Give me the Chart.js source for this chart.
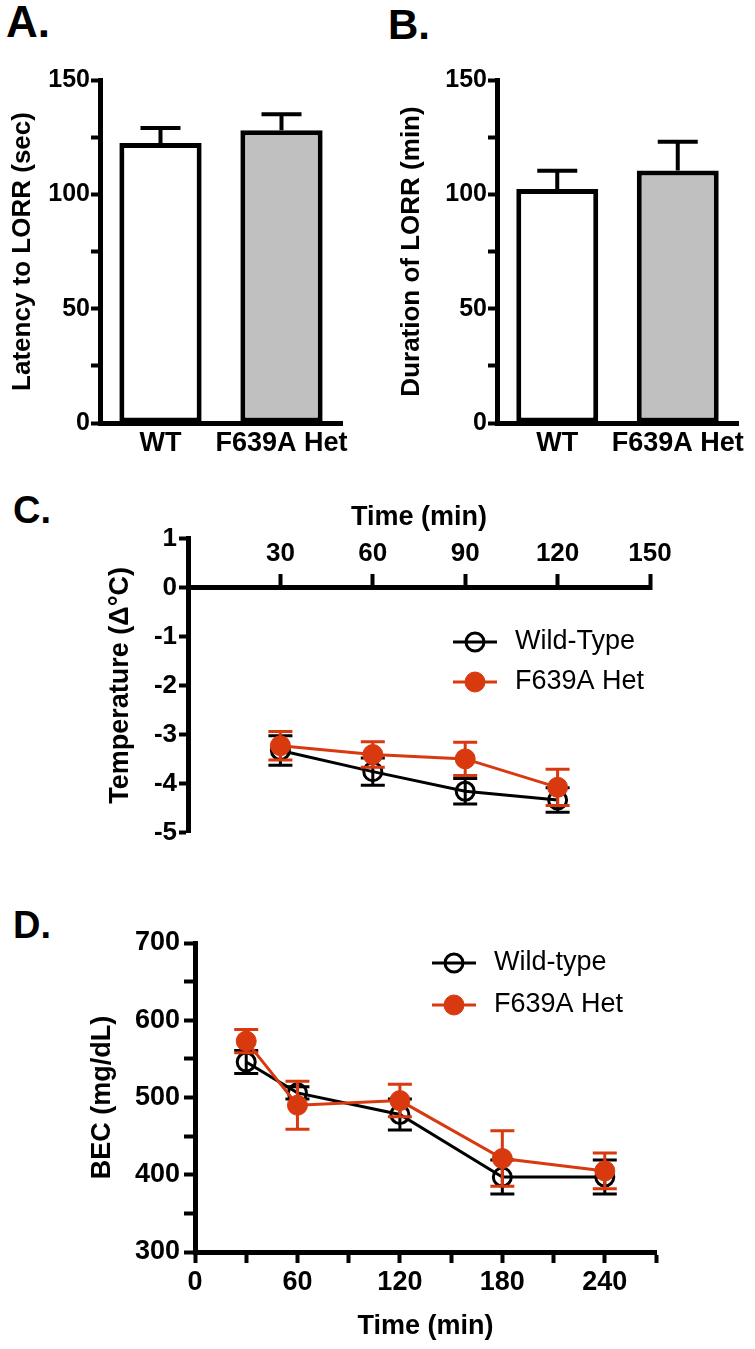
<!DOCTYPE html>
<html>
<head>
<meta charset="utf-8">
<script src="https://cdn.jsdelivr.net/npm/chart.js@4.4.1/dist/chart.umd.min.js"></script>
<style>
  body { margin: 0; background: #fff; width: 755px; height: 1349px; position: relative; overflow: hidden;
         font-family: 'Liberation Sans', Arial, sans-serif; }
  canvas { position: absolute; }
  .tag { position: absolute; font-weight: bold; color: #000; line-height: 1; }
</style>
</head>
<body>
<div class="tag" style="left:6px; top:0px; font-size:44px;">A.</div>
<div class="tag" style="left:388px; top:4px; font-size:42px;">B.</div>
<div class="tag" style="left:13px; top:491px; font-size:38px;">C.</div>
<div class="tag" style="left:13px; top:906px; font-size:38px;">D.</div>

<canvas id="chartA" width="378" height="470" style="left:0; top:0;"></canvas>
<canvas id="chartB" width="377" height="470" style="left:378px; top:0;"></canvas>
<canvas id="chartC" width="755" height="370" style="left:0; top:480px;"></canvas>
<canvas id="chartD" width="755" height="499" style="left:0; top:850px;"></canvas>

<script>
// A. / B. loss of righting reflex
const groups = ['WT', 'F639A Het'];
const latencyMean = [122.5, 128];
const latencySem = [6.5, 7];
const durationMean = [102.3, 110.4];
const durationSem = [8, 12.6];

// C. change in body temperature
const tempTimes = [30, 60, 90, 120];
const tempWT = [-3.33, -3.76, -4.16, -4.34];
const tempWTSem = [0.3, 0.28, 0.26, 0.25];
const tempHet = [-3.23, -3.41, -3.5, -4.08];
const tempHetSem = [0.29, 0.26, 0.34, 0.37];

// D. blood ethanol concentration
const becTimes = [30, 60, 120, 180, 240];
const becWT = [546, 506, 478, 397, 397];
const becWTSem = [15, 8, 20, 22, 22];
const becHet = [573, 490, 496, 421, 405];
const becHetSem = [15, 31, 21, 36, 23];

const red = '#d8390f';
const FONT = "'Liberation Sans', Arial, sans-serif";

Chart.defaults.font.family = FONT;
Chart.defaults.font.weight = 'bold';
Chart.defaults.color = '#000';
Chart.defaults.animation = false;
Chart.defaults.plugins.legend.display = false;
Chart.defaults.plugins.tooltip.enabled = false;

// mean +/- SEM bars, drawn from the dataset's sem array
const errorBars = {
    id: 'errorBars',
    beforeDatasetDraw(chart, args) {
        const ds = chart.data.datasets[args.index];
        if (!ds.sem) return;
        const yScale = chart.scales[args.meta.yAxisID];
        const ctx = chart.ctx;
        const half = ds.capWidth / 2;
        ctx.save();
        ctx.strokeStyle = ds.errColor || '#000';
        ctx.lineWidth = ds.errWidth || 3;
        args.meta.data.forEach((el, i) => {
            const v = args.meta.controller.getParsed(i).y;
            const top = yScale.getPixelForValue(v + ds.sem[i]);
            const bottom = yScale.getPixelForValue(ds.upOnly ? v : v - ds.sem[i]);
            ctx.beginPath();
            ctx.moveTo(el.x, top);
            ctx.lineTo(el.x, bottom);
            ctx.moveTo(el.x - half, top);
            ctx.lineTo(el.x + half, top);
            if (!ds.upOnly) {
                ctx.moveTo(el.x - half, bottom);
                ctx.lineTo(el.x + half, bottom);
            }
            ctx.stroke();
        });
        ctx.restore();
    }
};

// legend inside the plot, GraphPad style
const inlineLegend = {
    id: 'inlineLegend',
    afterDraw(chart, args, opts) {
        if (!opts || opts.x === undefined) return;
        const ctx = chart.ctx;
        ctx.save();
        chart.data.datasets.forEach((ds, i) => {
            const y = opts.y + i * opts.gap;
            ctx.strokeStyle = ds.borderColor;
            ctx.lineWidth = 3;
            ctx.beginPath();
            ctx.moveTo(opts.x - 22, y);
            ctx.lineTo(opts.x + 22, y);
            ctx.stroke();
            ctx.beginPath();
            ctx.arc(opts.x, y, ds.pointRadius, 0, Math.PI * 2);
            ctx.fillStyle = ds.pointBackgroundColor;
            ctx.fill();
            ctx.lineWidth = ds.pointBorderWidth;
            ctx.strokeStyle = ds.pointBorderColor;
            ctx.stroke();
            ctx.fillStyle = '#000';
            ctx.font = "normal 27px " + FONT;
            ctx.textBaseline = 'middle';
            ctx.fillText(ds.label, opts.x + 40, y);
        });
        ctx.restore();
    }
};

const axisBorder = { width: 5, color: '#000' };

function yTicksGrid(len) {
    return { drawOnChartArea: false, tickLength: len, tickWidth: 4, tickColor: '#000' };
}

function barChart(id, means, sem, yTitle, yWidth, titlePad, padRight) {
    return new Chart(document.getElementById(id), {
        type: 'bar',
        data: {
            labels: groups,
            datasets: [{
                data: means,
                sem: sem,
                upOnly: true,
                capWidth: 40,
                errWidth: 4,
                backgroundColor: ['#ffffff', '#c0c0c0'],
                borderColor: '#000',
                borderWidth: 5,
                borderSkipped: false,
                barPercentage: 0.68,
                categoryPercentage: 1
            }]
        },
        options: {
            responsive: false,
            layout: { padding: { left: 0, top: 80, right: padRight, bottom: 0 } },
            scales: {
                x: {
                    grid: { display: false, drawTicks: false },
                    border: axisBorder,
                    ticks: { font: { size: 27 }, padding: 4, maxRotation: 0, autoSkip: false },
                    afterFit: s => { s.height = 47; }
                },
                y: {
                    min: 0, max: 150,
                    ticks: { stepSize: 25, padding: 1, font: { size: 25 },
                             callback: v => v % 50 === 0 ? v : '' },
                    grid: yTicksGrid(9),
                    border: axisBorder,
                    title: { display: true, text: yTitle, font: { size: 26 }, padding: { top: titlePad, bottom: 0 } },
                    afterFit: s => { s.width = yWidth; }
                }
            }
        },
        plugins: [errorBars]
    });
}

barChart('chartA', latencyMean, latencySem, 'Latency to LORR (sec)', 100, 7, 36);
barChart('chartB', durationMean, durationSem, 'Duration of LORR (min)', 119, 18, 17);

function toPoints(xs, ys) {
    return xs.map((x, i) => ({ x: x, y: ys[i] }));
}

function series(label, xs, ys, sem, color, filled) {
    return {
        label: label,
        data: toPoints(xs, ys),
        sem: sem,
        capWidth: 24,
        errColor: color,
        borderColor: color,
        borderWidth: 3,
        tension: 0,
        pointRadius: filled ? 10 : 9,
        pointBorderWidth: filled ? 1 : 3,
        pointBorderColor: color,
        pointBackgroundColor: filled ? color : 'rgba(0,0,0,0)',
        order: filled ? 0 : 1
    };
}

new Chart(document.getElementById('chartC'), {
    type: 'line',
    data: {
        datasets: [
            series('Wild-Type', tempTimes, tempWT, tempWTSem, '#000', false),
            series('F639A Het', tempTimes, tempHet, tempHetSem, red, true)
        ]
    },
    options: {
        responsive: false,
        layout: { padding: { left: 0, top: 0, right: 105, bottom: 12 } },
        plugins: {
            title: { display: true, text: 'Time (min)', fullSize: false, color: '#000',
                     font: { size: 27, weight: 'bold' }, padding: { top: 21, bottom: 5 } },
            inlineLegend: { x: 475, y: 162, gap: 40 }
        },
        scales: {
            x: {
                type: 'linear', position: { y: 0 }, min: 0, max: 150,
                ticks: { stepSize: 30, padding: -33, font: { size: 26 }, maxRotation: 0, autoSkip: false,
                         callback: v => v === 0 ? '' : v },
                grid: { drawOnChartArea: false, tickLength: -16, tickWidth: 4, tickColor: '#000' },
                border: axisBorder
            },
            y: {
                min: -5, max: 1,
                ticks: { stepSize: 1, padding: 2, font: { size: 26 } },
                grid: yTicksGrid(9),
                border: axisBorder,
                title: { display: true, text: 'Temperature (Δ°C)', font: { size: 27 }, padding: { top: 104, bottom: 0 } },
                afterFit: s => { s.width = 188; }
            }
        }
    },
    plugins: [errorBars, inlineLegend]
});

new Chart(document.getElementById('chartD'), {
    type: 'line',
    data: {
        datasets: [
            series('Wild-type', becTimes, becWT, becWTSem, '#000', false),
            series('F639A Het', becTimes, becHet, becHetSem, red, true)
        ]
    },
    options: {
        responsive: false,
        layout: { padding: { left: 0, top: 93, right: 99, bottom: 0 } },
        plugins: {
            inlineLegend: { x: 454, y: 113, gap: 42 }
        },
        scales: {
            x: {
                type: 'linear', min: 0, max: 270,
                ticks: { stepSize: 30, padding: 3, font: { size: 27 }, maxRotation: 0, autoSkip: false,
                         callback: v => v % 60 === 0 ? v : '' },
                grid: { drawOnChartArea: false, tickLength: 11, tickWidth: 4, tickColor: '#000' },
                border: axisBorder,
                title: { display: true, text: 'Time (min)', font: { size: 27 }, padding: { top: 0, bottom: 6 } },
                afterFit: s => { s.height = 97; }
            },
            y: {
                min: 300, max: 700,
                ticks: { stepSize: 50, padding: 4, font: { size: 27 },
                         callback: v => v % 100 === 0 ? v : '' },
                grid: yTicksGrid(11),
                border: axisBorder,
                title: { display: true, text: 'BEC (mg/dL)', font: { size: 27 }, padding: { top: 86, bottom: 0 } },
                afterFit: s => { s.width = 195; }
            }
        }
    },
    plugins: [errorBars, inlineLegend]
});
</script>
</body>
</html>
